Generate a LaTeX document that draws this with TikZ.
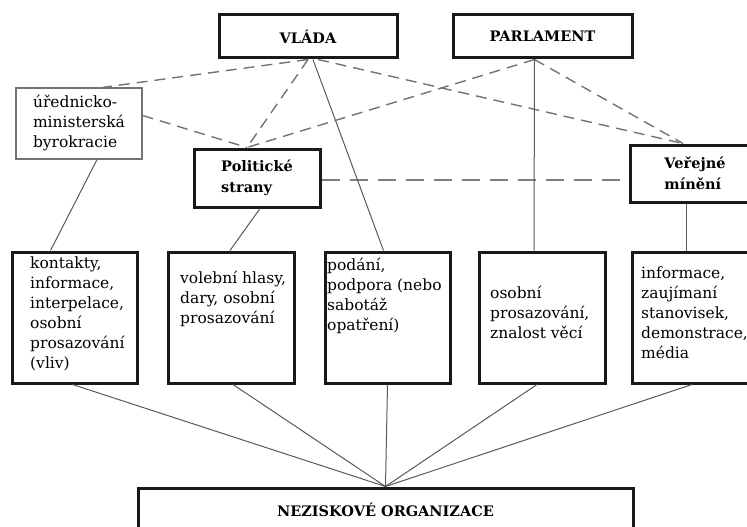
\documentclass[tikz,border=0pt]{standalone}
\usepackage{fontspec}
\setmainfont{DejaVu Serif}
\usetikzlibrary{positioning}

\begin{document}
\begin{tikzpicture}[x=1pt, y=-1pt,
    box/.style n args={2}{draw=black!90, line width=3pt, minimum width=#1, minimum height=#2, inner sep=0pt},
    thinbox/.style n args={2}{draw=black!55, line width=1.3pt, minimum width=#1, minimum height=#2, inner sep=0pt},
    title/.style={font=\fontsize{14.5}{21}\selectfont\bfseries, align=left},
    txt/.style={anchor=north west, align=left, inner sep=0pt, font=\fontsize{15.5}{20}\selectfont},
    link/.style={draw=black!65, line width=1pt},
    dlink/.style={draw=black!55, line width=1.4pt, dash pattern=on 11pt off 7pt},
    ldlink/.style={draw=black!50, line width=2pt, dash pattern=on 18pt off 10pt}]
    \useasboundingbox (0,0) rectangle (747,527);

    % top row
    \node[box={178}{43}, title] (vlada) at (308,36.5) {VLÁDA};
    \node[box={179}{43}, title] (parlament) at (542.5,36.5) {PARLAMENT};

    % middle row
    \node[thinbox={126}{71}, font=\fontsize{15.5}{20}\selectfont, align=left] (urad) at (79,123.5) {úřednicko-\\ministerská\\byrokracie};
    \node[box={126}{58}, title] (strany) at (257,178) {Politické\\strany};
    \node[box={130}{57}, title] (mineni) at (695,173.5) {Veřejné\\mínění};

    % channels
    \node[box={125}{131}] (kanal1) at (74.5,317.5) {};
    \node[box={126}{131}] (kanal2) at (231,317.5) {};
    \node[box={125}{131}] (kanal3) at (387.5,317.5) {};
    \node[box={126}{131}] (kanal4) at (542,317.5) {};
    \node[box={128}{131}] (kanal5) at (696,317.5) {};

    \node[txt] (text1) at (30,257) {kontakty,\\informace,\\interpelace,\\osobní\\prosazování\\(vliv)};
    \node[txt] (text2) at (180,271) {volební hlasy,\\dary, osobní\\prosazování};
    \node[txt] (text3) at (327,258) {podání,\\podpora (nebo\\sabotáž\\opatření)};
    \node[txt] (text4) at (490,286) {osobní\\prosazování,\\znalost věcí};
    \node[txt] (text5) at (641,267) {informace,\\zaujímaní\\stanovisek,\\demonstrace,\\média};

    % bottom
    \node[box={495}{44}, title] (nno) at (385.5,510) {NEZISKOVÉ ORGANIZACE};

    % dashed ties
    \draw[dlink] (vlada.south) -- ([xshift=24pt]urad.north);
    \draw[dlink] (vlada.south) -- ([xshift=-10pt]strany.north);
    \draw[dlink] ([xshift=10pt]vlada.south) -- ([xshift=-12pt]mineni.north);
    \draw[dlink] ([xshift=-8pt]parlament.south) -- ([xshift=-10pt]strany.north);
    \draw[dlink] ([xshift=-8pt]parlament.south) -- ([xshift=-12pt]mineni.north);
    \draw[dlink] ([yshift=8pt]urad.east) -- ([xshift=-10pt]strany.north);
    \draw[ldlink] ([yshift=-2pt]strany.east) -- ([yshift=-2pt]strany.east -| mineni.west);

    % solid ties
    \draw[link] ([xshift=18pt]urad.south) -- ([xshift=-24pt]kanal1.north);
    \draw[link] ([xshift=3pt]strany.south) -- ([xshift=-1pt]kanal2.north);
    \draw[link] ([xshift=5pt]vlada.south) -- ([xshift=-4pt]kanal3.north);
    \draw[link] ([xshift=-8pt]parlament.south) -- ([xshift=-8pt]kanal4.north);
    \draw[link] ([xshift=-9pt]mineni.south) -- ([xshift=-10pt]kanal5.north);

    \foreach \k/\s in {1/-2, 2/2, 3/0, 4/-5, 5/-4}
        \draw[link] ([xshift=\s pt]kanal\k.south) -- (nno.north);
\end{tikzpicture}
\end{document}
